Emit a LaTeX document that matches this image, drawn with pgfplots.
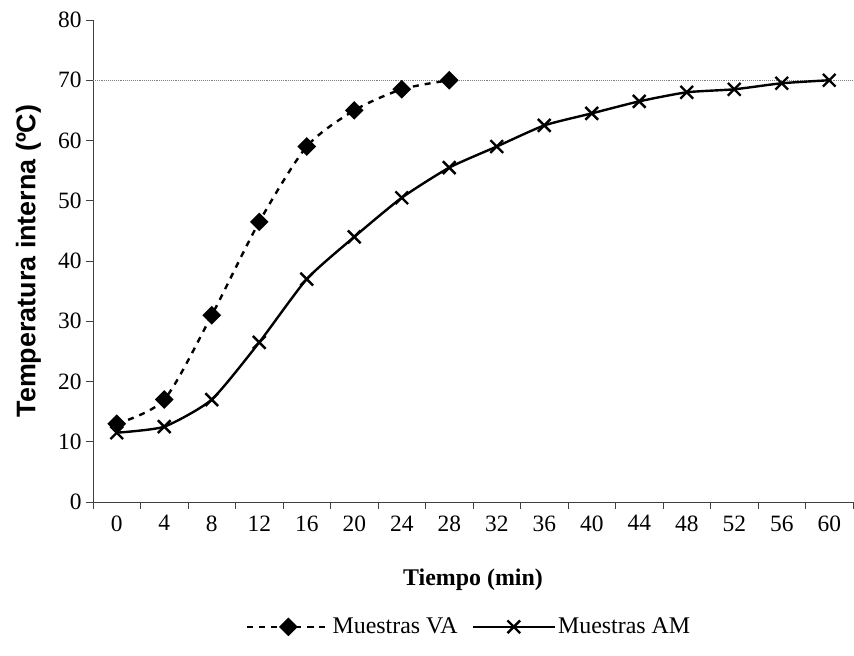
\documentclass[border=0pt]{standalone}
\usepackage{pgfplots}
\pgfplotsset{compat=1.18}
\usepackage{fontspec}
\setmainfont{Liberation Serif}
\newfontfamily\arial{Liberation Sans}

\begin{document}
\begin{tikzpicture}
\useasboundingbox (0,0) rectangle (854bp,656bp);
\begin{axis}[
    at={(93bp,154bp)}, anchor=south west,
    scale only axis,
    width=760bp, height=482bp,
    xmin=-2, xmax=62,
    ymin=0, ymax=80,
    axis x line=bottom, axis y line=left,
    axis line style={-, black!75, line width=0.9bp},
    xtick={0,4,...,60},
    minor xtick={-2,2,...,62},
    ytick={0,10,...,80},
    tick align=outside,
    major tick length=7bp, minor tick length=7bp,
    every major x tick/.style={draw=none},
    every tick/.append style={black!75, line width=0.9bp},
    every minor x tick/.append style={black!75, line width=0.9bp},
    /pgf/number format/assume math mode=true,
    tick label style={font=\rmfamily\fontsize{23.5}{27}\selectfont},
    xticklabel style={yshift=-3bp},
    yticklabel style={xshift=-1bp},
    xlabel={\textbf{Tiempo (min)}},
    ylabel={\arial\bfseries Temperatura interna (ºC)},
    xlabel style={font=\rmfamily\fontsize{24}{28}\selectfont, at={(axis description cs:0.5,-0.162)}, anchor=center},
    ylabel style={font=\fontsize{27}{31}\selectfont, at={(axis description cs:-0.085,0.5)}, anchor=center},
    legend columns=2,
    legend style={draw=none, font=\rmfamily\fontsize{24}{28}\selectfont,
        at={(axis description cs:0.495,-0.259)}, anchor=center,
        /tikz/every even column/.append style={column sep=12bp}},
    legend image code/.code={%
        \draw[mark repeat=2,mark phase=2] plot coordinates {(0bp,0bp) (41bp,0bp) (82bp,0bp)};},
    clip=false,
]
\addplot[gray, densely dotted, line width=0.9bp, forget plot] coordinates {(-2,70) (62,70)};
\addplot[black, line width=2.4bp, dash pattern=on 6bp off 6bp, smooth, tension=0.45,
    mark=square*, mark size=5.4bp, mark options={solid, rotate=45, fill=black}]
coordinates {(0,13) (4,17) (8,31) (12,46.5) (16,59) (20,65) (24,68.5) (28,70)};
\addlegendentry{Muestras VA}
\addplot[black, line width=2.4bp, smooth, tension=0.35,
    mark=x, mark size=9bp, mark options={solid, line width=2.4bp}]
coordinates {(0,11.5) (4,12.5) (8,17) (12,26.5) (16,37) (20,44) (24,50.5) (28,55.5)
    (32,59) (36,62.5) (40,64.5) (44,66.5) (48,68) (52,68.5) (56,69.5) (60,70)};
\addlegendentry{Muestras AM}
\end{axis}
\end{tikzpicture}
\end{document}
